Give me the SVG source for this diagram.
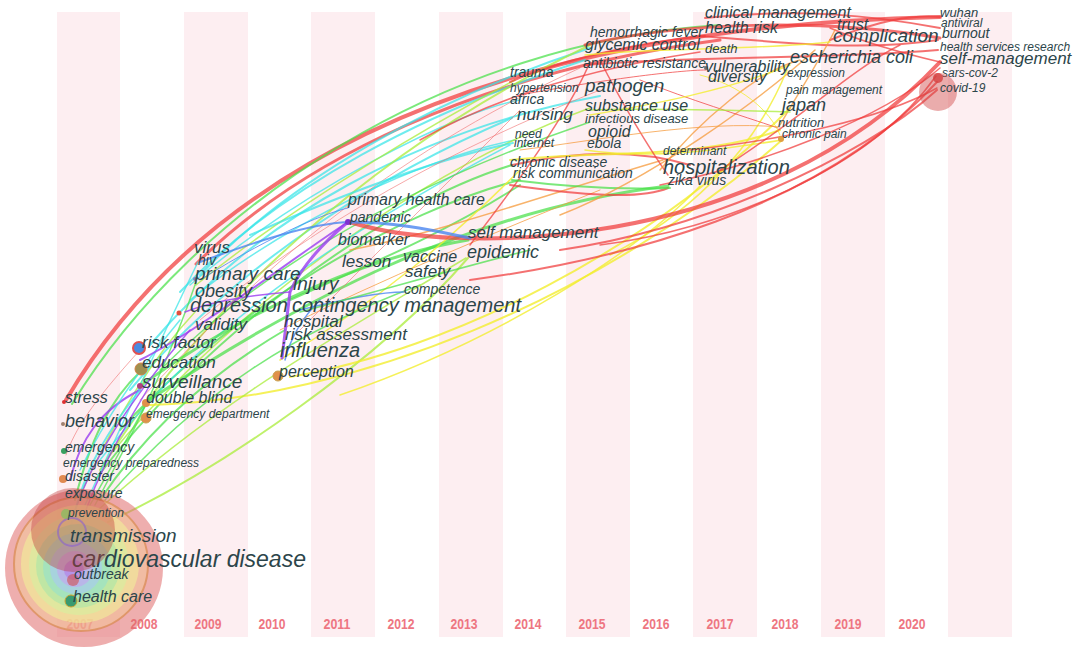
<svg xmlns="http://www.w3.org/2000/svg" width="1084" height="654" viewBox="0 0 1084 654">
<style>
.bg{fill:#ffffff}
.st{fill:#fdeef1}
.yr{font-family:"Liberation Sans Narrow","Liberation Sans",Arial,sans-serif;font-weight:bold;font-size:14px;fill:#ee7682;text-anchor:middle}
.t{font-family:"Liberation Sans",Arial,sans-serif;font-style:italic;fill:#2c454a}
.s12{font-size:12px}.s13{font-size:13px}.s14{font-size:14px}.s16{font-size:16px}.s17{font-size:17px}.s18{font-size:18px}.s19{font-size:19px}.s20{font-size:20px}.s23{font-size:23px}
#connectors path{fill:none;stroke-linecap:round}
.red{stroke:#f03a3a;stroke-opacity:.72}
.pnk{stroke:#f07070;stroke-opacity:.6}
.ora{stroke:#f59a3a;stroke-opacity:.75}
.yel{stroke:#f2ee30;stroke-opacity:.8}
.lim{stroke:#aaec3a;stroke-opacity:.75}
.grn{stroke:#48e048;stroke-opacity:.72}
.cyn{stroke:#38e4e8;stroke-opacity:.72}
.blu{stroke:#4a86f0;stroke-opacity:.8}
.pur{stroke:#9a3cf0;stroke-opacity:.8}
.w1{stroke-width:1}.w15{stroke-width:1.5}.w2{stroke-width:2}.w3{stroke-width:3}.w4{stroke-width:4}
.dot{stroke-width:1}
</style>
<rect class="bg" x="0" y="0" width="1084" height="654"/>
<g id="stripes">
<rect class="st" x="57" y="12" width="63" height="625"/>
<rect class="st" x="184" y="12" width="64" height="625"/>
<rect class="st" x="311" y="12" width="64" height="625"/>
<rect class="st" x="439" y="12" width="64" height="625"/>
<rect class="st" x="566" y="12" width="64" height="625"/>
<rect class="st" x="693" y="12" width="64" height="625"/>
<rect class="st" x="821" y="12" width="64" height="625"/>
<rect class="st" x="948" y="12" width="64" height="625"/>
</g>
<g id="years">
<text class="yr" x="80" y="629" textLength="27" lengthAdjust="spacingAndGlyphs">2007</text>
<text class="yr" x="144" y="629" textLength="27" lengthAdjust="spacingAndGlyphs">2008</text>
<text class="yr" x="208" y="629" textLength="27" lengthAdjust="spacingAndGlyphs">2009</text>
<text class="yr" x="272" y="629" textLength="27" lengthAdjust="spacingAndGlyphs">2010</text>
<text class="yr" x="337" y="629" textLength="27" lengthAdjust="spacingAndGlyphs">2011</text>
<text class="yr" x="401" y="629" textLength="27" lengthAdjust="spacingAndGlyphs">2012</text>
<text class="yr" x="464" y="629" textLength="27" lengthAdjust="spacingAndGlyphs">2013</text>
<text class="yr" x="528" y="629" textLength="27" lengthAdjust="spacingAndGlyphs">2014</text>
<text class="yr" x="592" y="629" textLength="27" lengthAdjust="spacingAndGlyphs">2015</text>
<text class="yr" x="656" y="629" textLength="27" lengthAdjust="spacingAndGlyphs">2016</text>
<text class="yr" x="720" y="629" textLength="27" lengthAdjust="spacingAndGlyphs">2017</text>
<text class="yr" x="785" y="629" textLength="27" lengthAdjust="spacingAndGlyphs">2018</text>
<text class="yr" x="848" y="629" textLength="27" lengthAdjust="spacingAndGlyphs">2019</text>
<text class="yr" x="912" y="629" textLength="27" lengthAdjust="spacingAndGlyphs">2020</text>
</g>
<g id="connectors">
<path class="red w4" d="M 66 400 C 190 190, 450 28, 940 17"/>
<path class="grn w2" d="M 72 404 C 196 202, 450 42, 720 25"/>
<path class="red w3" d="M 196 264 C 300 160, 480 72, 720 40"/>
<path class="cyn w2" d="M 200 275 C 290 180, 430 100, 590 48"/>
<path class="cyn w15" d="M 190 285 C 300 190, 460 110, 520 100"/>
<path class="cyn w2" d="M 180 292 C 280 185, 430 110, 585 60"/>
<path class="cyn w2" d="M 150 345 C 260 215, 420 130, 600 96"/>
<path class="cyn w2" d="M 130 390 C 240 260, 390 170, 512 118"/>
<path class="cyn w15" d="M 190 300 C 290 220, 420 160, 515 140"/>
<path class="lim w2" d="M 100 470 C 200 310, 370 150, 590 45"/>
<path class="lim w15" d="M 110 455 C 230 310, 420 170, 590 108"/>
<path class="grn w2" d="M 95 480 C 200 340, 380 205, 512 165"/>
<path class="grn w2" d="M 120 430 C 230 310, 400 210, 520 180"/>
<path class="cyn w15" d="M 100 460 C 200 330, 330 240, 510 145"/>
<path class="lim w15" d="M 196 285 C 300 200, 440 120, 515 80"/>
<path class="pnk w1" d="M 140 400 C 260 270, 380 160, 580 68"/>
<path class="grn w15" d="M 160 370 C 270 260, 420 180, 590 122"/>
<path class="cyn w2" d="M 250 235 C 330 200, 430 160, 513 143"/>
<path class="grn w3" d="M 146 402 C 300 300, 470 210, 668 186"/>
<path class="grn w3" d="M 140 386 C 260 300, 380 255, 468 240"/>
<path class="grn w2" d="M 290 300 C 380 260, 450 230, 520 185"/>
<path class="lim w2" d="M 108 522 C 220 470, 380 360, 468 258"/>
<path class="yel w2" d="M 150 405 C 350 400, 600 300, 782 140"/>
<path class="yel w2" d="M 290 377 C 450 350, 650 250, 790 108"/>
<path class="yel w15" d="M 340 395 C 500 340, 640 250, 700 186"/>
<path class="yel w15" d="M 280 360 C 380 300, 450 240, 520 170"/>
<path class="ora w15" d="M 350 250 C 450 230, 560 190, 663 160"/>
<path class="ora w1" d="M 280 330 C 380 280, 500 230, 600 190"/>
<path class="pnk w1" d="M 300 330 C 380 250, 450 180, 520 110"/>
<path class="pnk w1" d="M 200 320 C 320 220, 450 150, 600 90"/>
<path class="red w15" d="M 470 245 C 520 180, 570 110, 590 62"/>
<path class="red w2" d="M 510 185 C 580 195, 640 200, 668 188"/>
<path class="red w2" d="M 512 165 C 580 150, 640 150, 690 165"/>
<path class="grn w2" d="M 512 180 C 560 186, 620 190, 670 188"/>
<path class="yel w2" d="M 510 160 C 600 150, 700 160, 780 130"/>
<path class="yel w15" d="M 585 150 C 650 160, 720 150, 782 140"/>
<path class="ora w15" d="M 560 215 C 650 180, 760 100, 815 50"/>
<path class="yel w15" d="M 610 255 C 680 220, 750 160, 787 70"/>
<path class="red w4" d="M 350 222 C 450 255, 760 255, 940 62"/>
<path class="red w2" d="M 470 280 C 620 260, 820 210, 937 82"/>
<path class="red w2" d="M 560 250 C 700 230, 860 160, 937 90"/>
<path class="red w15" d="M 660 185 C 760 165, 880 120, 940 68"/>
<path class="red w15" d="M 600 245 C 720 230, 870 170, 936 76"/>
<path class="red w2" d="M 510 82 C 560 60, 640 42, 705 36"/>
<path class="red w3" d="M 585 45 C 680 22, 820 18, 940 38"/>
<path class="red w2" d="M 585 65 C 700 55, 820 60, 938 50"/>
<path class="red w2" d="M 705 18 C 800 8, 870 15, 940 28"/>
<path class="red w2" d="M 700 36 C 780 42, 860 52, 938 40"/>
<path class="red w15" d="M 830 28 C 870 45, 910 55, 940 62"/>
<path class="red w1" d="M 640 80 C 690 100, 740 115, 778 128"/>
<path class="red w15" d="M 720 170 C 800 120, 850 70, 900 45"/>
<path class="red w15" d="M 690 150 C 780 140, 880 120, 937 88"/>
<path class="red w15" d="M 600 60 C 620 100, 650 150, 668 175"/>
<path class="red w2" d="M 830 40 C 880 20, 910 15, 940 17"/>
<path class="red w1" d="M 520 95 C 600 80, 680 70, 706 70"/>
<path class="red w15" d="M 420 140 C 490 100, 580 70, 700 52"/>
<path class="ora w15" d="M 660 170 C 700 120, 760 70, 800 60"/>
<path class="ora w15" d="M 780 125 C 800 90, 820 60, 835 30"/>
<path class="yel w15" d="M 585 55 C 650 48, 760 50, 830 42"/>
<path class="yel w15" d="M 590 115 C 650 105, 730 90, 790 65"/>
<path class="yel w1" d="M 700 75 C 740 85, 770 110, 780 135"/>
<path class="lim w15" d="M 590 110 C 650 108, 720 110, 790 112"/>
<path class="ora w1" d="M 520 150 C 600 140, 700 120, 780 127"/>
<path class="grn w2" d="M 75 500 C 90 440, 110 400, 140 372"/>
<path class="lim w15" d="M 80 495 C 110 430, 150 360, 195 312"/>
<path class="cyn w15" d="M 85 505 C 120 430, 160 340, 198 262"/>
<path class="grn w15" d="M 95 505 C 130 440, 170 360, 196 282"/>
<path class="grn w2" d="M 100 500 C 140 440, 200 380, 285 330"/>
<path class="grn w15" d="M 90 505 C 115 460, 135 425, 146 404"/>
<path class="pur w2" d="M 70 480 C 80 440, 100 410, 140 390"/>
<path class="pnk w1" d="M 66 455 C 75 430, 90 405, 140 350"/>
<path class="pur w15" d="M 72 520 C 90 460, 130 400, 190 330"/>
<path class="cyn w15" d="M 80 470 C 100 430, 130 380, 180 320"/>
<path class="grn w15" d="M 105 500 C 200 390, 300 330, 420 285"/>
<path class="lim w15" d="M 98 510 C 220 400, 330 340, 466 258"/>
<path class="pur w15" d="M 75 545 C 95 470, 130 420, 150 385"/>
<path class="cyn w2" d="M 68 540 C 80 480, 100 440, 140 390"/>
<path class="pur w3" d="M 348 222 Q 305 258 290 292 L 282 358"/>
<path class="pur w2" d="M 348 222 C 290 260, 200 330, 140 360"/>
<path class="pur w15" d="M 290 292 C 250 295, 210 302, 185 312"/>
<path class="blu w2" d="M 200 262 C 260 240, 310 224, 348 222"/>
<path class="blu w3" d="M 348 222 C 400 222, 440 232, 470 238"/>
<path class="blu w15" d="M 300 310 C 340 300, 380 292, 404 292"/>
<path class="blu w1" d="M 200 280 C 280 230, 330 212, 348 208"/>
<path class="blu w15" d="M 285 360 C 290 340, 300 320, 320 300"/>
<path class="grn w15" d="M 300 312 C 400 285, 470 265, 530 250"/>
</g>
<g id="n-cardiovascular-disease">
<circle cx="84" cy="568" r="79" fill="#e06c6c" fill-opacity=".55"/>
<circle cx="81" cy="564" r="67" fill="#f4c89a" fill-opacity=".55" stroke="#d98a50" stroke-width="2" stroke-opacity=".7"/>
<circle cx="80" cy="564" r="59" fill="#f2ee9a" fill-opacity=".6"/>
<circle cx="79" cy="565" r="50" fill="#d6f0a0" fill-opacity=".6"/>
<circle cx="78" cy="566" r="42" fill="#a8e6a8" fill-opacity=".6"/>
<circle cx="77" cy="567" r="34" fill="#90e0d0" fill-opacity=".55"/>
<circle cx="76" cy="568" r="26" fill="#a8c8f4" fill-opacity=".6"/>
<circle cx="75" cy="569" r="18" fill="#c4a4f0" fill-opacity=".6"/>
<circle cx="74" cy="570" r="10" fill="#b070e8" fill-opacity=".5"/>
<text class="t s23" x="72" y="567">cardiovascular disease</text>
</g>
<g id="n-transmission">
<circle cx="73" cy="530" r="42" fill="#c03a3a" fill-opacity=".4"/>
<circle cx="72" cy="532" r="14" fill="none" stroke="#8a60d0" stroke-width="2" stroke-opacity=".6"/>
<text class="t s19" x="70" y="542">transmission</text>
</g>
<g id="n-outbreak"><circle cx="73" cy="580" r="6" fill="#d05050" fill-opacity=".6"/><text class="t s14" x="74" y="579">outbreak</text></g>
<g id="n-health-care"><circle cx="71" cy="601" r="6" fill="#3a9a70" stroke="#d0a030" class="dot"/><text class="t s16" x="73" y="602">health care</text></g>
<g id="n-prevention"><circle cx="66" cy="514" r="5" fill="#80c060" fill-opacity=".7"/><text class="t s12" x="68" y="517">prevention</text></g>
<g id="n-exposure"><text class="t s14" x="65" y="498">exposure</text></g>
<g id="n-disaster"><circle cx="63" cy="479" r="4" fill="#e08a50"/><text class="t s14" x="65" y="481">disaster</text></g>
<g id="n-emergency-preparedness"><text class="t s12" x="63" y="467">emergency preparedness</text></g>
<g id="n-emergency"><circle cx="64" cy="451" r="3" fill="#3aa060"/><text class="t s14" x="65" y="452">emergency</text></g>
<g id="n-behavior"><circle cx="63" cy="424" r="2" fill="#a08070"/><text class="t s18" x="65" y="427">behavior</text></g>
<g id="n-stress"><circle cx="64" cy="402" r="2" fill="#e03030"/><text class="t s16" x="65" y="403">stress</text></g>
<g id="n-emergency-department"><circle cx="146" cy="418" r="5" fill="#e0904a" stroke="#c8a050" class="dot"/><text class="t s12" x="146" y="418">emergency department</text></g>
<g id="n-double-blind"><circle cx="146" cy="403" r="4" fill="#e0904a"/><text class="t s16" x="146" y="403">double blind</text></g>
<g id="n-surveillance"><circle cx="140" cy="386" r="3" fill="#b04080"/><text class="t s19" x="142" y="388">surveillance</text></g>
<g id="n-education"><circle cx="141" cy="369" r="6" fill="#a09050" stroke="#d08040" class="dot"/><text class="t s17" x="142" y="368">education</text></g>
<g id="n-risk-factor"><circle cx="139" cy="348" r="6" fill="#4a8ae0" stroke="#e05050" stroke-width="2"/><text class="t s17" x="142" y="348">risk factor</text></g>
<g id="n-validity"><text class="t s17" x="195" y="330">validity</text></g>
<g id="n-depression"><circle cx="179" cy="313" r="2.5" fill="#e05040"/><text class="t s20" x="190" y="312">depression</text></g>
<g id="n-obesity"><text class="t s18" x="195" y="297">obesity</text></g>
<g id="n-primary-care"><circle cx="195" cy="279" r="2" fill="#8080c0"/><text class="t s19" x="195" y="280">primary care</text></g>
<g id="n-hiv"><text class="t s14" x="198" y="265">hiv</text></g>
<g id="n-virus"><text class="t s17" x="194" y="253">virus</text></g>
<g id="n-injury"><text class="t s19" x="293" y="290">injury</text></g>
<g id="n-contingency-management"><text class="t s20" x="292" y="312">contingency management</text></g>
<g id="n-hospital"><text class="t s17" x="284" y="327">hospital</text></g>
<g id="n-risk-assessment"><text class="t s17" x="285" y="340">risk assessment</text></g>
<g id="n-influenza"><text class="t s20" x="280" y="357">influenza</text></g>
<g id="n-perception"><circle cx="278" cy="376" r="5" fill="#e0904a" stroke="#c8a050" class="dot"/><text class="t s16" x="279" y="377">perception</text></g>
<g id="n-primary-health-care"><text class="t s16" x="348" y="205">primary health care</text></g>
<g id="n-pandemic"><circle cx="348" cy="222" r="3" fill="#8030d0"/><text class="t s14" x="350" y="222">pandemic</text></g>
<g id="n-biomarker"><text class="t s16" x="338" y="245">biomarker</text></g>
<g id="n-lesson"><text class="t s17" x="342" y="267">lesson</text></g>
<g id="n-vaccine"><text class="t s16" x="403" y="262">vaccine</text></g>
<g id="n-safety"><text class="t s17" x="405" y="277">safety</text></g>
<g id="n-competence"><text class="t s14" x="404" y="294">competence</text></g>
<g id="n-self-management-2013"><text class="t s17" x="468" y="238">self management</text></g>
<g id="n-epidemic"><text class="t s18" x="467" y="258">epidemic</text></g>
<g id="n-chronic-disease"><text class="t s14" x="510" y="167">chronic disease</text></g>
<g id="n-risk-communication"><text class="t s14" x="513" y="178">risk communication</text></g>
<g id="n-need"><text class="t s12" x="515" y="138">need</text></g>
<g id="n-internet"><text class="t s12" x="514" y="147">internet</text></g>
<g id="n-nursing"><text class="t s17" x="517" y="120">nursing</text></g>
<g id="n-africa"><text class="t s14" x="510" y="104">africa</text></g>
<g id="n-hypertension"><text class="t s12" x="510" y="92">hypertension</text></g>
<g id="n-trauma"><text class="t s14" x="510" y="77">trauma</text></g>
<g id="n-hemorrhagic-fever"><text class="t s14" x="590" y="37">hemorrhagic fever</text></g>
<g id="n-glycemic-control"><text class="t s16" x="585" y="50">glycemic control</text></g>
<g id="n-antibiotic-resistance"><text class="t s14" x="583" y="68">antibiotic resistance</text></g>
<g id="n-pathogen"><text class="t s19" x="585" y="92">pathogen</text></g>
<g id="n-substance-use"><text class="t s16" x="585" y="111">substance use</text></g>
<g id="n-infectious-disease"><text class="t s13" x="585" y="123">infectious disease</text></g>
<g id="n-opioid"><text class="t s16" x="588" y="137">opioid</text></g>
<g id="n-ebola"><text class="t s14" x="587" y="148">ebola</text></g>
<g id="n-determinant"><text class="t s12" x="663" y="155">determinant</text></g>
<g id="n-hospitalization"><text class="t s20" x="663" y="174">hospitalization</text></g>
<g id="n-zika-virus"><text class="t s14" x="668" y="185">zika virus</text></g>
<g id="n-clinical-management"><text class="t s16" x="705" y="18">clinical management</text></g>
<g id="n-health-risk"><text class="t s16" x="705" y="33">health risk</text></g>
<g id="n-death"><text class="t s13" x="705" y="53">death</text></g>
<g id="n-vulnerability"><circle cx="706" cy="68" r="2" fill="#707070"/><text class="t s16" x="705" y="72">vulnerability</text></g>
<g id="n-diversity"><text class="t s16" x="708" y="82">diversity</text></g>
<g id="n-trust"><text class="t s16" x="837" y="30">trust</text></g>
<g id="n-complication"><text class="t s19" x="833" y="42">complication</text></g>
<g id="n-escherichia-coli"><text class="t s18" x="790" y="63">escherichia coli</text></g>
<g id="n-expression"><text class="t s12" x="787" y="77">expression</text></g>
<g id="n-pain-management"><text class="t s12" x="786" y="94">pain management</text></g>
<g id="n-japan"><text class="t s18" x="782" y="111">japan</text></g>
<g id="n-nutrition"><text class="t s13" x="778" y="127">nutrition</text></g>
<g id="n-chronic-pain"><circle cx="781" cy="139" r="3" fill="#e0a040"/><text class="t s12" x="782" y="138">chronic pain</text></g>
<g id="n-wuhan"><text class="t s13" x="940" y="17">wuhan</text></g>
<g id="n-antiviral"><text class="t s12" x="941" y="27">antiviral</text></g>
<g id="n-burnout"><text class="t s14" x="942" y="38">burnout</text></g>
<g id="n-health-services-research"><text class="t s12" x="940" y="51">health services research</text></g>
<g id="n-self-management"><text class="t s17" x="940" y="64">self-management</text></g>
<g id="n-sars-cov-2"><circle cx="938" cy="78" r="5" fill="#d83a3a" fill-opacity=".8"/><text class="t s12" x="942" y="77">sars-cov-2</text></g>
<g id="n-covid-19"><circle cx="938" cy="92" r="19" fill="#d04848" fill-opacity=".45"/><text class="t s12" x="940" y="92">covid-19</text></g>
</svg>
